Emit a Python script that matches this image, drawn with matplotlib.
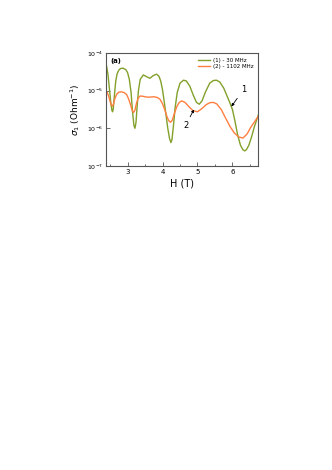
import numpy as np
import matplotlib
matplotlib.use('Agg')
import matplotlib.pyplot as plt
from matplotlib.ticker import MultipleLocator, LogLocator, NullLocator

# curve 1 : 30 MHz  (H in T, log10 of sigma)
h1 = [2.37, 2.40, 2.44, 2.48, 2.52, 2.55, 2.57, 2.59, 2.62, 2.66, 2.70, 2.75,
      2.80, 2.87, 2.95, 3.00, 3.05, 3.10, 3.14, 3.18, 3.21, 3.24, 3.27, 3.31,
      3.36, 3.45, 3.55, 3.64, 3.73, 3.83, 3.90, 3.95, 4.00, 4.05, 4.10, 4.15,
      4.20, 4.24, 4.27, 4.31, 4.36, 4.42, 4.50, 4.60, 4.68, 4.78, 4.88, 4.97,
      5.05, 5.13, 5.23, 5.35, 5.45, 5.54, 5.64, 5.75, 5.85, 5.93, 6.00, 6.07,
      6.15, 6.23, 6.30, 6.35, 6.40, 6.47, 6.55, 6.63, 6.74]
s1 = [-4.27, -4.35, -4.58, -4.95, -5.32, -5.52, -5.56, -5.48, -5.15, -4.75, -4.55, -4.45,
      -4.41, -4.40, -4.44, -4.52, -4.70, -5.05, -5.55, -5.92, -6.00, -5.85, -5.45, -5.00,
      -4.70, -4.58, -4.63, -4.67, -4.60, -4.56, -4.62, -4.75, -4.98, -5.30, -5.65, -6.00,
      -6.27, -6.38, -6.30, -5.95, -5.45, -5.05, -4.80, -4.72, -4.74, -4.88, -5.12, -5.31,
      -5.36, -5.27, -5.03, -4.80, -4.73, -4.72, -4.77, -4.93, -5.15, -5.33, -5.50, -5.80,
      -6.18, -6.45, -6.57, -6.60, -6.57, -6.45, -6.22, -5.95, -5.65]

# curve 2 : 1102 MHz
h2 = [2.37, 2.42, 2.47, 2.51, 2.54, 2.57, 2.60, 2.64, 2.69, 2.75, 2.82, 2.90,
      2.97, 3.03, 3.08, 3.13, 3.17, 3.21, 3.25, 3.30, 3.36, 3.45, 3.55, 3.65,
      3.75, 3.85, 3.93, 4.00, 4.07, 4.13, 4.18, 4.23, 4.28, 4.34, 4.41, 4.48,
      4.55, 4.64, 4.75, 4.87, 5.00, 5.12, 5.25, 5.35, 5.45, 5.55, 5.68, 5.80,
      5.93, 6.05, 6.18, 6.30, 6.42, 6.52, 6.63, 6.74]
s2 = [-5.00, -5.05, -5.18, -5.32, -5.39, -5.41, -5.34, -5.20, -5.09, -5.04, -5.03, -5.05,
      -5.10, -5.22, -5.36, -5.52, -5.58, -5.52, -5.35, -5.20, -5.14, -5.15, -5.17, -5.17,
      -5.16, -5.18, -5.23, -5.35, -5.52, -5.70, -5.80, -5.84, -5.78, -5.60, -5.42, -5.31,
      -5.27, -5.31, -5.42, -5.53, -5.56, -5.48, -5.37, -5.32, -5.31, -5.35, -5.50, -5.72,
      -5.95, -6.12, -6.23, -6.26, -6.15, -5.98, -5.83, -5.68]

labels = ['(1) - 30 MHz', '(2) - 1102 MHz']
green = '#82a02a'
orange = '#ff7f40'

fig = plt.figure(figsize=(3.32, 4.70), dpi=100)
ax = fig.add_axes([0.318, 0.647, 0.460, 0.240])

ax.plot(h1, 10 ** np.array(s1), color=green, lw=1.0, label=labels[0])
ax.plot(h2, 10 ** np.array(s2), color=orange, lw=1.0, label=labels[1])

ax.set_yscale('log')
ax.set_xlim(2.37, 6.74)
ax.set_ylim(1e-7, 1e-4)
ax.xaxis.set_major_locator(MultipleLocator(1))
ax.xaxis.set_minor_locator(MultipleLocator(0.5))
ax.yaxis.set_major_locator(LogLocator(base=10, numticks=10))
ax.yaxis.set_minor_locator(NullLocator())
ax.tick_params(which='both', direction='in', color='#555555', width=0.6, pad=2)
ax.tick_params(axis='x', labelsize=5)
ax.tick_params(axis='y', labelsize=4.5)
ax.tick_params(which='major', length=3)
ax.tick_params(which='minor', length=1.8)
for sp in ax.spines.values():
    sp.set_color('#555555')
    sp.set_linewidth(0.8)

ax.set_xlabel('H (T)', fontsize=7, labelpad=3)
ax.set_ylabel(r'$\sigma_1$ (Ohm$^{-1}$)', fontsize=6.5, labelpad=3)

ax.text(0.03, 0.96, '(a)', transform=ax.transAxes, fontsize=5,
        fontweight='bold', va='top', ha='left')

ax.legend(loc='upper right', fontsize=4, frameon=False, handlelength=2.2,
          handletextpad=0.4, labelspacing=0.2, borderaxespad=0.5)

ax.annotate('1', xy=(5.97, 10 ** -5.42), xytext=(6.31, 10 ** -4.98),
            fontsize=6, ha='center', va='center',
            arrowprops=dict(arrowstyle='-|>', color='black', lw=0.6,
                            mutation_scale=4, shrinkA=1, shrinkB=0))
ax.annotate('2', xy=(4.90, 10 ** -5.50), xytext=(4.66, 10 ** -5.92),
            fontsize=6, ha='center', va='center',
            arrowprops=dict(arrowstyle='-|>', color='black', lw=0.6,
                            mutation_scale=4, shrinkA=1, shrinkB=0))

fig.savefig('out.png', dpi=100, facecolor='white')
